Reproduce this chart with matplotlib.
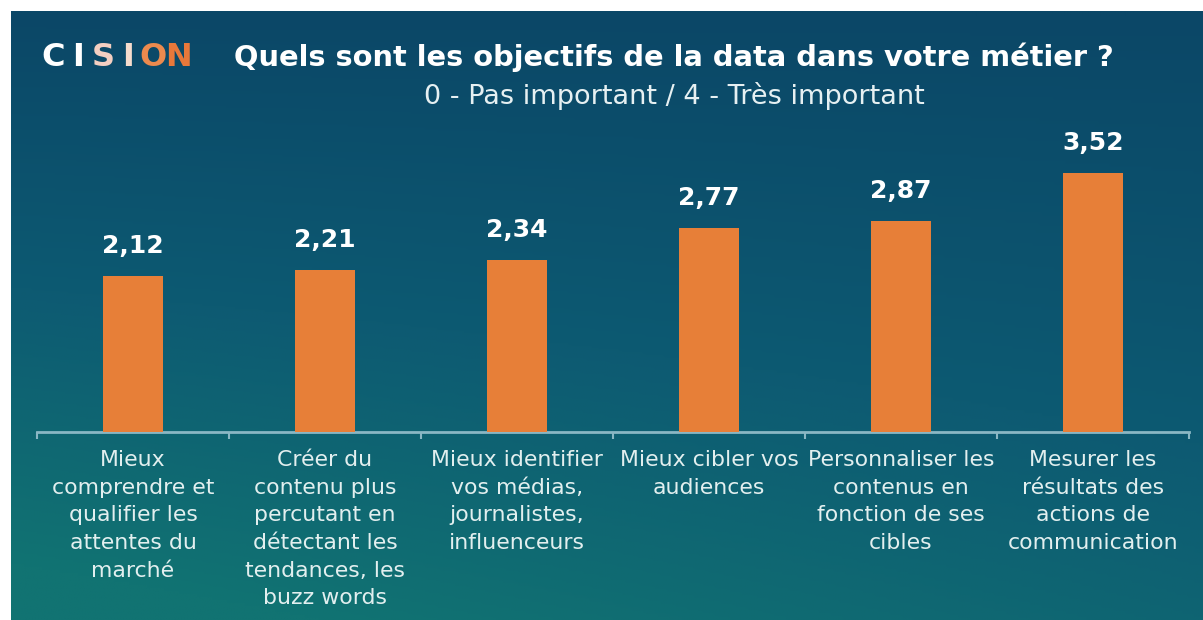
import numpy as np
import matplotlib
matplotlib.use("Agg")
import matplotlib.pyplot as plt
from matplotlib.colors import LinearSegmentedColormap

categories = [
    "Mieux\ncomprendre et\nqualifier les\nattentes du\nmarché",
    "Créer du\ncontenu plus\npercutant en\ndétectant les\ntendances, les\nbuzz words",
    "Mieux identifier\nvos médias,\njournalistes,\ninfluenceurs",
    "Mieux cibler vos\naudiences",
    "Personnaliser les\ncontenus en\nfonction de ses\ncibles",
    "Mesurer les\nrésultats des\nactions de\ncommunication",
]
values = [2.12, 2.21, 2.34, 2.77, 2.87, 3.52]
value_labels = ["2,12", "2,21", "2,34", "2,77", "2,87", "3,52"]
title = "Quels sont les objectifs de la data dans votre métier ?"
subtitle = "0 - Pas important / 4 - Très important"
logo_letters = ["C", "I", "S", "I", "O", "N"]
logo_colors = ["white", "white", "#f4cfc2", "#f6dccd", "#ec8a4e", "#e8783a"]

W, H = 1203, 620
fig = plt.figure(figsize=(W / 100, H / 100), dpi=100)
fig.patch.set_facecolor("white")

def fx(x):
    return x / W

def fy(y):
    return 1 - y / H

# background gradient
bg = fig.add_axes([fx(11), 0, 1 - fx(11), 1 - 11 / H], zorder=0)
ny, nx = 200, 400
yy, xx = np.mgrid[0:1:ny * 1j, 0:1:nx * 1j]
t = np.clip(0.7 * yy + 0.4 * (1 - xx) * yy, 0, 1)
cmap = LinearSegmentedColormap.from_list("bg", ["#0b4767", "#0d5a72", "#117372"])
bg.imshow(t, cmap=cmap, aspect="auto", extent=[0, 1, 1, 0], vmin=0, vmax=1)
bg.set_axis_off()

# main axes
ax = fig.add_axes([fx(37), 1 - 432 / H, fx(1189) - fx(37), 294 / H], zorder=2)
ax.patch.set_alpha(0)
x = np.arange(len(values))
ax.bar(x, values, width=0.31, color="#e77f38", zorder=3)
ax.set_xlim(-0.5, len(values) - 0.5)
ax.set_ylim(0, 4)
for xi, v, lab in zip(x, values, value_labels):
    ax.annotate(lab, (xi, v), xytext=(0, 13), textcoords="offset points",
                ha="center", va="bottom", color="white", fontsize=18,
                fontweight="bold", family="DejaVu Sans")

for s in ["top", "right", "left"]:
    ax.spines[s].set_visible(False)
ax.spines["bottom"].set_color("#8ab7c4")
ax.spines["bottom"].set_linewidth(2)
ax.set_yticks([])
ax.set_xticks(x)
ax.set_xticklabels(categories, color="#e2efef", fontsize=15.8, linespacing=1.48,
                   family="DejaVu Sans")
ax.tick_params(axis="x", which="major", length=0, pad=13)
ax.set_xticks(np.arange(-0.5, len(values)), minor=True)
ax.tick_params(axis="x", which="minor", length=5, width=1.5, color="#8ab7c4",
               direction="out")

# logo
for i, (ch, c) in enumerate(zip(logo_letters, logo_colors)):
    fig.text(fx(53 + i * 25), fy(57), ch, color=c, fontsize=23, fontweight="bold",
             family="DejaVu Sans", ha="center", va="center", zorder=5)

fig.text(fx(674), fy(57), title, color="white", fontsize=20.8, fontweight="bold",
         ha="center", va="center", family="DejaVu Sans", zorder=5)
fig.text(fx(674), fy(96), subtitle, color="#e6f0f2", fontsize=19.5,
         ha="center", va="center", family="DejaVu Sans", zorder=5)

fig.savefig("out.png", dpi=100, facecolor=fig.get_facecolor())
